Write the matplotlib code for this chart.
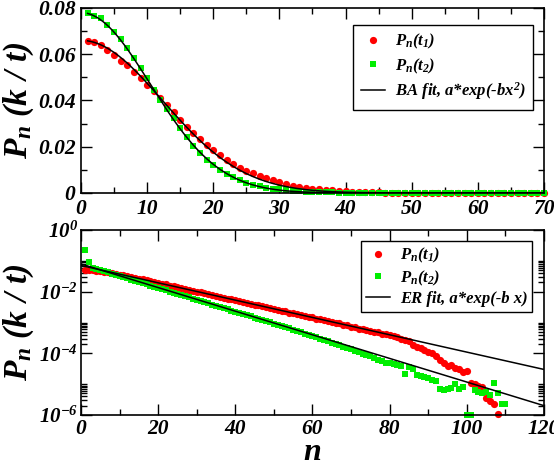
import numpy as np
import matplotlib
matplotlib.use("Agg")
import matplotlib.pyplot as plt
from matplotlib.ticker import FixedLocator, FuncFormatter

plt.rcParams['font.family'] = 'Liberation Serif'
plt.rcParams['font.weight'] = 'bold'
plt.rcParams['font.style'] = 'italic'
plt.rcParams['mathtext.fontset'] = 'custom'
plt.rcParams['mathtext.it'] = 'Liberation Serif:italic:bold'
plt.rcParams['mathtext.rm'] = 'Liberation Serif:italic:bold'
plt.rcParams['mathtext.bf'] = 'Liberation Serif:italic:bold'
plt.rcParams['mathtext.default'] = 'it'

# ---- top panel (BA): P_n(k/t) vs n, linear scale ----
n_top = list(range(1, 71))
ba_t1 = [0.0659, 0.0654, 0.0639, 0.0617, 0.0597, 0.0572, 0.0553, 0.0525, 0.0496, 0.0467,
         0.0441, 0.0409, 0.0381, 0.0350, 0.0315, 0.0287, 0.0258, 0.0232, 0.0208, 0.0186,
         0.0164, 0.0143, 0.0125, 0.0109, 0.0097, 0.0085, 0.0074, 0.0063, 0.0054, 0.0046,
         0.0038, 0.0032, 0.0027, 0.0022, 0.0019, 0.0016, 0.0013, 0.0011, 0.0009, 0.00075,
         0.0006, 0.0005, 0.0004, 0.00032, 0.00026, 0.0002, 0.00016, 0.00012, 0.0001, 0.00008,
         0.00006, 0.00005, 0.00004, 0.00003, 0.00003, 0.00002, 0.00002, 0.00002, 0.00001, 0.00001,
         0.00001, 0.00001, 0.0, 0.0, 0.0, 0.0, 0.0, 0.0, 0.0, 0.0]
ba_t2 = [0.0777, 0.0767, 0.0755, 0.0726, 0.0698, 0.0666, 0.0626, 0.0582, 0.0539, 0.0496,
         0.0445, 0.0402, 0.0363, 0.0323, 0.0280, 0.0243, 0.0205, 0.0172, 0.0143, 0.0121,
         0.0099, 0.0082, 0.0068, 0.0056, 0.0045, 0.0036, 0.0029, 0.0023, 0.0019, 0.0016,
         0.0013, 0.0010, 0.0008, 0.0006, 0.0005, 0.0004, 0.0003, 0.00025, 0.0002, 0.00015,
         0.0001, 0.00008, 0.00006, 0.00005, 0.00004, 0.00003, 0.00002, 0.00002, 0.00001, 0.00001,
         0.0, 0.0, 0.0, 0.0, 0.0, 0.0, 0.0, 0.0, 0.0, 0.0,
         0.0, 0.0, 0.0, 0.0, 0.0, 0.0, 0.0, 0.0, 0.0, 0.0]
# BA fit a*exp(-b x^2)
ba_fit_t1 = (0.066, 0.0033)
ba_fit_t2 = (0.078, 0.0046)

# ---- bottom panel (ER): P_n(k/t) vs n, log scale ----
n_er_t1 = list(range(1, 109))
er_t1 = [0.052, 0.051, 0.049, 0.047, 0.046, 0.044, 0.042, 0.040, 0.038, 0.036,
         0.034, 0.032, 0.0302, 0.0285, 0.0266, 0.0250, 0.0238, 0.0222, 0.0205, 0.0195,
         0.0180, 0.0172, 0.0158, 0.0151, 0.0140, 0.0131, 0.0124, 0.0114, 0.0109, 0.0100,
         0.0096, 0.0088, 0.0083, 0.0079, 0.0072, 0.0069, 0.0064, 0.0060, 0.0057, 0.0053,
         0.0050, 0.0046, 0.0044, 0.0041, 0.0038, 0.0036, 0.0034, 0.0031, 0.0030, 0.0028,
         0.0026, 0.0024, 0.0023, 0.0021, 0.0020, 0.0019, 0.00172, 0.00165, 0.00152, 0.00146,
         0.00135, 0.00128, 0.00118, 0.00113, 0.00104, 0.00098, 0.00093, 0.00086, 0.00081, 0.00074,
         0.00071, 0.00062, 0.00062, 0.00058, 0.00054, 0.00051, 0.00048, 0.00044, 0.00042, 0.00039,
         0.00036, 0.00033, 0.00030, 0.00028, 0.00026, 0.00019, 0.00016, 0.00015, 0.00013, 0.00011,
         0.000105, 0.000085, 0.000060, 0.000048, 0.000040, 0.000042, 0.000034, 0.000031, 0.000025, 0.000026,
         1.1e-5, 1.0e-5, 9.0e-6, 8.0e-6, 3.6e-6, 2.9e-6, 2.3e-6, 1.1e-6]
n_er_t2 = list(range(1, 111))
er_t2 = [0.22, 0.095, 0.060, 0.055, 0.050, 0.046, 0.042, 0.038, 0.035, 0.032,
         0.029, 0.027, 0.0245, 0.0225, 0.0205, 0.0188, 0.0172, 0.0157, 0.0144, 0.0132,
         0.0121, 0.0110, 0.0101, 0.0092, 0.0084, 0.0077, 0.0071, 0.0065, 0.0059, 0.0054,
         0.0050, 0.0046, 0.0042, 0.0038, 0.0035, 0.0032, 0.0029, 0.0027, 0.0024, 0.0022,
         0.0020, 0.00188, 0.00170, 0.00157, 0.00142, 0.00131, 0.00120, 0.00110, 0.00101, 0.00091,
         0.00084, 0.00076, 0.00070, 0.00064, 0.00058, 0.00053, 0.00049, 0.00044, 0.00040, 0.00036,
         0.00034, 0.00029, 0.00027, 0.00025, 0.00022, 0.00020, 0.00018, 0.00016, 0.00015, 0.000135,
         0.000115, 0.000110, 0.000095, 0.000090, 0.000080, 0.000072, 0.000060, 0.000055, 0.000050, 0.000048,
         4.6e-5, 4.3e-5, 4.0e-5, 2.1e-5, 3.5e-5, 3.2e-5, 2.0e-5, 1.8e-5, 1.7e-5, 1.6e-5,
         1.4e-5, 1.3e-5, 7.0e-6, 6.5e-6, 6.8e-6, 7.5e-6, 1.0e-5, 7.0e-6, 8.0e-6, 1.0e-6,
         1.0e-6, 6.5e-6, 5.5e-6, 5.0e-6, 5.4e-6, 4.6e-6, 1.1e-5, 5.0e-6, 2.3e-6, 2.3e-6]
# ER fit a*exp(-b x)
er_fit_t1 = (0.0708, 0.0647)
er_fit_t2 = (0.0794, 0.0882)

red = '#ff0000'
green = '#00ee00'

fig = plt.figure(figsize=(5.54, 4.62), dpi=100)
ax1 = fig.add_axes([0.1462, 0.5823, 0.8357, 0.4004])
ax2 = fig.add_axes([0.1462, 0.1017, 0.8357, 0.4004])

# top panel
ax1.plot(n_top, ba_t1, 'o', color=red, ms=5.2, mew=0, clip_on=False, label=r'$P_n(t_1)$')
ax1.plot(n_top, ba_t2, 's', color=green, ms=4.6, mew=0, clip_on=False, label=r'$P_n(t_2)$')
xf = np.linspace(1, 70, 300)
ax1.plot(xf, ba_fit_t1[0] * np.exp(-ba_fit_t1[1] * xf**2), color='black', lw=1.1,
         label=r'BA fit, a*exp(-bx$^2$)')
ax1.plot(xf, ba_fit_t2[0] * np.exp(-ba_fit_t2[1] * xf**2), color='black', lw=1.1)
ax1.set_xlim(0, 70)
ax1.set_ylim(0, 0.08)
ax1.xaxis.set_major_locator(FixedLocator(np.arange(0, 71, 10)))
ax1.xaxis.set_minor_locator(FixedLocator(np.arange(0, 71, 5)))
ax1.yaxis.set_major_locator(FixedLocator([0, 0.02, 0.04, 0.06, 0.08]))
ax1.yaxis.set_minor_locator(FixedLocator([0.01, 0.03, 0.05, 0.07]))
ax1.yaxis.set_major_formatter(FuncFormatter(lambda v, p: '0' if v == 0 else f'{v:.2f}'))
ax1.set_ylabel(r'$P_n\ (k\ /\ t)$', fontsize=24)
ax1.yaxis.set_label_coords(-0.097, 0.5)
ax1.legend(loc='upper right', bbox_to_anchor=(0.977, 0.91), fontsize=12, numpoints=1,
           fancybox=False, edgecolor='black', framealpha=1, borderpad=0.45,
           handlelength=1.45, handletextpad=0.6, labelspacing=0.3, borderaxespad=0)

# bottom panel
ax2.semilogy(n_er_t1, er_t1, 'o', color=red, ms=5.2, mew=0, clip_on=False, label=r'$P_n(t_1)$')
ax2.semilogy(n_er_t2, er_t2, 's', color=green, ms=4.6, mew=0, clip_on=False, label=r'$P_n(t_2)$')
xe = np.linspace(0, 120, 200)
ax2.plot(xe, er_fit_t1[0] * np.exp(-er_fit_t1[1] * xe), color='black', lw=1.1,
         label='ER fit, a*exp(-b x)')
ax2.plot(xe, er_fit_t2[0] * np.exp(-er_fit_t2[1] * xe), color='black', lw=1.1)
ax2.set_xlim(0, 120)
ax2.set_ylim(1e-6, 1)
ax2.xaxis.set_major_locator(FixedLocator(np.arange(0, 121, 20)))
ax2.xaxis.set_minor_locator(FixedLocator(np.arange(10, 120, 20)))
ax2.yaxis.set_major_locator(FixedLocator([1e0, 1e-2, 1e-4, 1e-6]))
ax2.yaxis.set_minor_locator(FixedLocator([k * 10.0**e for e in (-2, -4, -6) for k in range(2, 11)]))
ax2.yaxis.set_major_formatter(FuncFormatter(lambda v, p: r'$10^{%d}$' % round(np.log10(v))))
ax2.yaxis.set_minor_formatter(FuncFormatter(lambda v, p: ''))
ax2.set_ylabel(r'$P_n\ (k\ /\ t)$', fontsize=24)
ax2.yaxis.set_label_coords(-0.097, 0.5)
ax2.set_xlabel(r'$n$', fontsize=23)
ax2.xaxis.set_label_coords(0.5, -0.122)
ax2.legend(loc='upper right', bbox_to_anchor=(0.975, 0.94), fontsize=12, numpoints=1,
           fancybox=False, edgecolor='black', framealpha=1, borderpad=0.3,
           handlelength=1.45, handletextpad=0.6, labelspacing=0.2, borderaxespad=0)

for ax in (ax1, ax2):
    ax.tick_params(which='both', direction='in', top=True, right=True, width=1.0,
                   labelsize=15.5, pad=4)
    ax.tick_params(which='major', length=8)
    ax.tick_params(which='minor', length=4.5)
    for s in ax.spines.values():
        s.set_linewidth(1.2)
    ax.get_legend().get_frame().set_linewidth(1.0)
ax2.tick_params(axis='y', which='major', labelsize=15, pad=2)
ax2.tick_params(axis='x', which='major', pad=3)

fig.savefig('out.png', dpi=100)
